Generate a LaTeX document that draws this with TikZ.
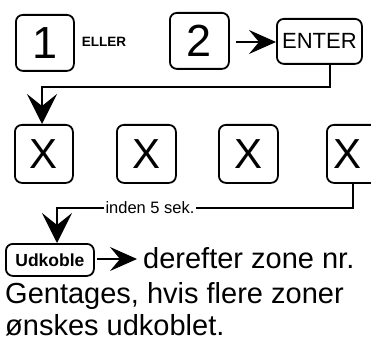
\documentclass[tikz,border=0pt]{standalone}
\usepackage{fontspec}
\setmainfont{Liberation Sans}
\usetikzlibrary{arrows.meta}
\tikzset{
  key/.style={draw, line width=1.8pt, rounded corners=7pt, inner sep=0pt, anchor=north west},
  conn/.style={line width=1.5pt},
  bigtip/.style={-{Stealth[length=30pt,width=30pt,inset=12pt]}},
  sidetip/.style={-{Stealth[length=27pt,width=24pt,inset=10pt]}},
}
\begin{document}
\begin{tikzpicture}[x=1pt,y=-1pt]
\useasboundingbox (0,0) rectangle (371,347);
\clip (0,0) rectangle (371,347);
% row 1
\node[key, minimum width=58pt, minimum height=56pt, font=\fontsize{45}{45}\selectfont] (k1) at (15,14) {1};
\node[font=\fontsize{13.5}{13.5}\selectfont\bfseries, inner sep=0pt] (eller) at (104,42) {ELLER};
\node[key, minimum width=59pt, minimum height=56pt, font=\fontsize{45}{45}\selectfont] (k2) at (169,12) {2};
\node[key, minimum width=85pt, minimum height=45pt, font=\fontsize{22}{22}\selectfont] (enter) at (276,18) {ENTER};
\coordinate (a1) at (236,42);
\draw[conn, sidetip] (a1) -- (a1 -| enter.west);
% connector to X row
\coordinate (c1) at (330,63);
\coordinate (c2) at (42,124);
\draw[conn, bigtip] (c1) -- (330,87) -| (c2);
% X row
\node[key, minimum width=58pt, minimum height=58pt, font=\fontsize{42}{42}\selectfont] (x1) at (14,124) {X};
\node[key, minimum width=59pt, minimum height=58pt, font=\fontsize{42}{42}\selectfont] (x2) at (116,124) {X};
\node[key, minimum width=59pt, minimum height=58pt, font=\fontsize{42}{42}\selectfont] (x3) at (218,124) {X};
\node[key, minimum width=66pt, minimum height=58pt, font=\fontsize{42}{42}\selectfont] (x4) at (326,124) {X\hspace*{24pt}};
% inden 5 sek.
\node[font=\fontsize{16.5}{16.5}\selectfont, inner sep=1pt] (lbl) at (150,208) {inden 5 sek.};
\coordinate (d1) at (353,182);
\draw[conn] (d1) |- (lbl.east);
\coordinate (d2) at (57,243);
\draw[conn, bigtip] (lbl.west) -| (d2);
% Udkoble
\node[key, minimum width=88pt, minimum height=32pt, font=\bfseries\fontsize{17.5}{17.5}\selectfont] (udk) at (5,243) {Udkoble};
\coordinate (e1) at (97,259);
\coordinate (e2) at (137,259);
\draw[conn, sidetip] (e1) -- (e2);
\node[font=\fontsize{29}{29}\selectfont, anchor=base west, inner sep=0pt] (der) at (143,268) {derefter zone nr.};
\node[font=\fontsize{29}{29}\selectfont, anchor=base west, inner sep=0pt] (gen) at (5,303) {Gentages, hvis flere zoner};
\node[font=\fontsize{29}{29}\selectfont, anchor=base west, inner sep=0pt] (onsk) at (5,335) {ønskes udkoblet.};
\end{tikzpicture}
\end{document}
